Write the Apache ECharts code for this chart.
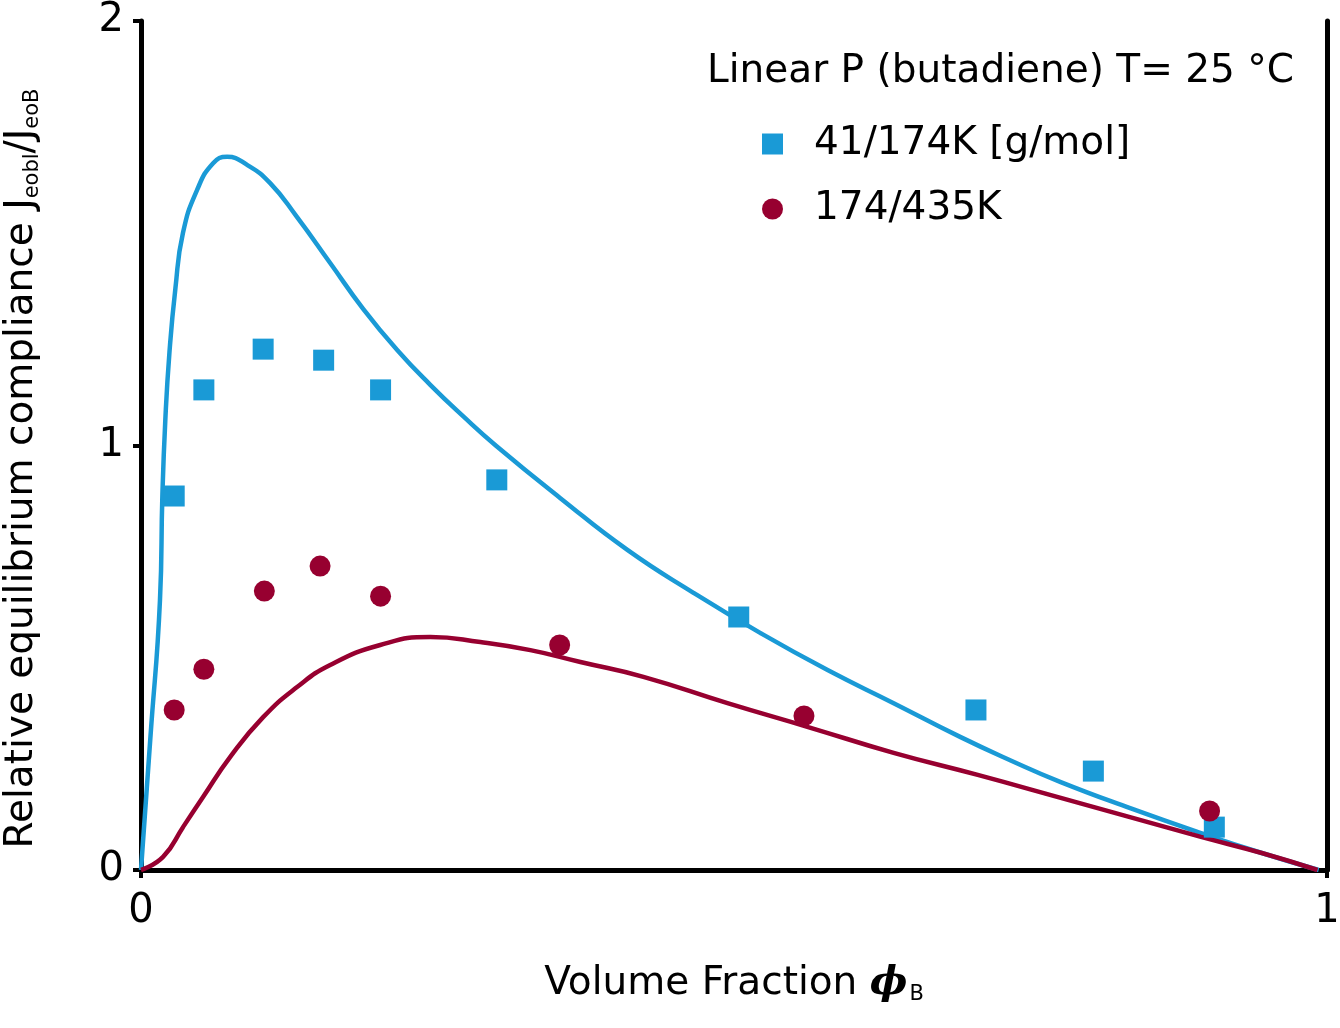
<!DOCTYPE html>
<html>
<head>
<meta charset="utf-8">
<script src="https://cdn.jsdelivr.net/npm/echarts@6/dist/echarts.min.js"></script>
<style>
html,body{margin:0;padding:0;background:#fff;}
#c{width:1340px;height:1028px;}
</style>
</head>
<body>
<div id="c"></div>
<script>
// ---- data ----
const xTicks = [0, 1];
const yTicks = [0, 1, 2];
const legendTitle = 'Linear P (butadiene) T= 25 °C';
const seriesNames = ['41/174K [g/mol]', '174/435K'];

const blueX = [0.028, 0.053, 0.103, 0.154, 0.202, 0.300, 0.504, 0.704, 0.803, 0.905];
const blueY = [0.881, 1.131, 1.227, 1.201, 1.131, 0.919, 0.596, 0.377, 0.233, 0.101];

const redX = [0.028, 0.053, 0.104, 0.151, 0.202, 0.353, 0.559, 0.901];
const redY = [0.377, 0.473, 0.657, 0.716, 0.645, 0.530, 0.363, 0.139];

const blueCurveX = [0, 0.008, 0.016, 0.018, 0.0205, 0.024, 0.029, 0.0354, 0.0473, 0.0608, 0.0726, 0.0895, 0.1089, 0.1316, 0.1595, 0.1873, 0.216, 0.2439, 0.272, 0.2996, 0.3536, 0.4101, 0.4658, 0.5224, 0.5789, 0.6346, 0.6911, 0.7333, 0.7755, 0.8346, 0.8937, 0.945, 0.993];
const blueCurveY = [0, 0.315, 0.636, 0.88, 1.06, 1.22, 1.37, 1.501, 1.602, 1.665, 1.680, 1.661, 1.618, 1.538, 1.430, 1.322, 1.225, 1.143, 1.068, 0.999, 0.876, 0.754, 0.653, 0.558, 0.471, 0.393, 0.313, 0.258, 0.207, 0.145, 0.087, 0.040, 0];

const redCurveX = [0, 0.0186, 0.0354, 0.0523, 0.0751, 0.103, 0.1316, 0.1595, 0.2017, 0.2439, 0.2861, 0.3283, 0.3705, 0.4236, 0.4945, 0.5646, 0.6346, 0.7055, 0.7755, 0.8346, 0.8937, 0.945, 0.992];
const redCurveY = [0, 0.031, 0.101, 0.172, 0.266, 0.360, 0.431, 0.483, 0.530, 0.549, 0.537, 0.518, 0.490, 0.455, 0.393, 0.335, 0.276, 0.224, 0.170, 0.124, 0.078, 0.040, 0];

const zip = (a, b) => a.map((v, i) => [v, b[i]]);

const BLUE = '#1a9ad6';
const RED = '#970030';
const FONT = '"DejaVu Sans", "Liberation Sans", sans-serif';

const chart = echarts.init(document.getElementById('c'));
chart.setOption({
  animation: false,
  backgroundColor: '#fff',
  textStyle: { fontFamily: FONT, color: '#000' },
  title: {
    text: legendTitle,
    left: 702, top: 47,
    textStyle: { fontFamily: FONT, fontSize: 39, fontWeight: 'normal', color: '#000' }
  },
  legend: {
    orient: 'vertical',
    left: 757, top: 117,
    itemWidth: 21, itemHeight: 21,
    itemGap: 21,
    data: [
      { name: seriesNames[0], icon: 'rect' },
      { name: seriesNames[1], icon: 'circle' }
    ],
    textStyle: { fontFamily: FONT, fontSize: 39, color: '#000', lineHeight: 44, padding: [0, 0, 0, 26] }
  },
  grid: { left: 141, right: 13, top: 21, bottom: 158, containLabel: false, outerBoundsMode: 'none' },
  xAxis: {
    type: 'value', min: 0, max: 1, interval: 1,
    name: '{a|Volume Fraction }{p|ϕ}{s|B}',
    nameLocation: 'middle', nameGap: 92,
    nameTextStyle: {
      rich: {
        a: { fontFamily: FONT, fontSize: 39, color: '#000' },
        p: { fontFamily: 'DejaVu Serif', fontSize: 40, fontStyle: 'italic', fontWeight: 'bold', color: '#000' },
        s: { fontFamily: FONT, fontSize: 21, color: '#000', padding: [22, 0, 0, 2] }
      }
    },
    splitLine: { show: false },
    axisLine: { show: true, onZero: false, lineStyle: { color: '#000', width: 5 } },
    axisTick: { show: true, length: 8, inside: false, lineStyle: { color: '#000', width: 4 } },
    axisLabel: { fontFamily: FONT, fontSize: 40, color: '#000', margin: 22,
      formatter: v => xTicks.includes(v) ? String(v) : '' }
  },
  yAxis: [{
    type: 'value', min: 0, max: 2, interval: 1,
    name: '{a|Relative equilibrium compliance J}{s|eobl}{a|/J}{s|eoB}',
    nameLocation: 'middle', nameGap: 98, nameRotate: 90,
    nameTextStyle: {
      padding: [0, 46, 0, 0],
      rich: {
        a: { fontFamily: FONT, fontSize: 39, color: '#000' },
        s: { fontFamily: FONT, fontSize: 21, color: '#000', padding: [22, 0, 0, 0] }
      }
    },
    splitLine: { show: false },
    axisLine: { show: true, onZero: false, lineStyle: { color: '#000', width: 5 } },
    axisTick: { show: true, length: 8, lineStyle: { color: '#000', width: 4 } },
    axisLabel: { fontFamily: FONT, fontSize: 40, color: '#000', margin: 17,
      formatter: v => yTicks.includes(v) ? String(v) : '' }
  }, {
    type: 'value', min: 0, max: 2, position: 'right',
    splitLine: { show: false },
    axisLine: { show: true, onZero: false, lineStyle: { color: '#000', width: 5 } },
    axisTick: { show: false }, axisLabel: { show: false }
  }],
  series: [
    { type: 'line', name: 'blueCurve', data: zip(blueCurveX, blueCurveY), showSymbol: false,
      smooth: 0.5,
      lineStyle: { color: BLUE, width: 4.5 }, z: 2, silent: true },
    { type: 'line', name: 'redCurve', data: zip(redCurveX, redCurveY), showSymbol: false,
      smooth: 0.5,
      lineStyle: { color: RED, width: 4.5 }, z: 3, silent: true },
    { type: 'scatter', name: seriesNames[0], data: zip(blueX, blueY), symbol: 'rect', symbolSize: 21,
      itemStyle: { color: BLUE, opacity: 1 }, z: 4 },
    { type: 'scatter', name: seriesNames[1], data: zip(redX, redY), symbol: 'circle', symbolSize: 21,
      itemStyle: { color: RED, opacity: 1 }, z: 5 }
  ]
});
</script>
</body>
</html>
